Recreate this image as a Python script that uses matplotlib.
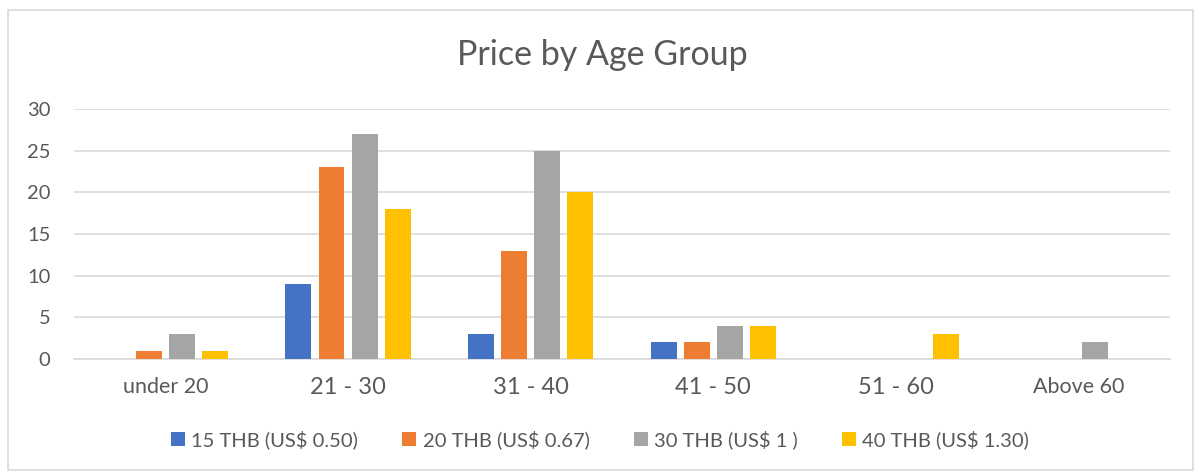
import numpy as np
import matplotlib.pyplot as plt
from matplotlib.patches import Rectangle

plt.rcParams['font.family'] = ['Lato', 'DejaVu Sans']

# Datos
groups = ['under 20', '21 - 30', '31 - 40', '41 - 50', '51 - 60', 'Above 60']
labels = ['15 THB (US$ 0.50)', '20 THB (US$ 0.67)', '30 THB (US$ 1 )', '40 THB (US$ 1.30)']
thb15 = [0, 9, 3, 2, 0, 0]
thb20 = [1, 23, 13, 2, 0, 0]
thb30 = [3, 27, 25, 4, 0, 2]
thb40 = [1, 18, 20, 4, 3, 0]
series = [thb15, thb20, thb30, thb40]
colors = ['#4472C4', '#ED7D31', '#A5A5A5', '#FFC000']

fig = plt.figure(figsize=(12, 4.76), dpi=100)
ax = fig.add_axes([0.0617, 0.2458, 0.9133, 0.5252])

# marco exterior
fig.patches.append(Rectangle((0.007, 0.012), 0.987, 0.968, transform=fig.transFigure,
                             fill=False, edgecolor='#D9D9D9', linewidth=1.2))

x = np.arange(len(groups))
step = 0.181
width = 0.142
for i, (vals, lab, col) in enumerate(zip(series, labels, colors)):
    ax.bar(x + (i - 1.5) * step, vals, width, color=col, label=lab, zorder=3)

ax.set_xlim(-0.5, 5.5)
ax.set_ylim(0, 30)
ax.set_yticks(range(0, 31, 5))
ax.yaxis.grid(True, color='#D9D9D9', linewidth=1.2, zorder=0)
for s in ['top', 'right', 'left']:
    ax.spines[s].set_visible(False)
ax.spines['bottom'].set_color('#D9D9D9')
ax.spines['bottom'].set_linewidth(1.2)
ax.tick_params(axis='both', length=0, colors='#595959')
ax.tick_params(axis='y', labelsize=14.5, pad=17)
ax.tick_params(axis='x', labelsize=17, pad=13)
ax.set_xticks(x)
ax.set_xticklabels(groups)
for t in ax.get_xticklabels():
    if t.get_text() in ('under 20', 'Above 60'):
        t.set_fontsize(15.5)

fig.text(0.502, 0.884, 'Price by Age Group', ha='center', va='center', fontsize=24.5, color='#595959')

fig.legend(loc='center', bbox_to_anchor=(0.5, 0.076), ncol=4, frameon=False,
           fontsize=14.5, labelcolor='#595959', handlelength=0.7, handleheight=0.7,
           handletextpad=0.3, columnspacing=2.2)

fig.savefig('out.png', dpi=100)
